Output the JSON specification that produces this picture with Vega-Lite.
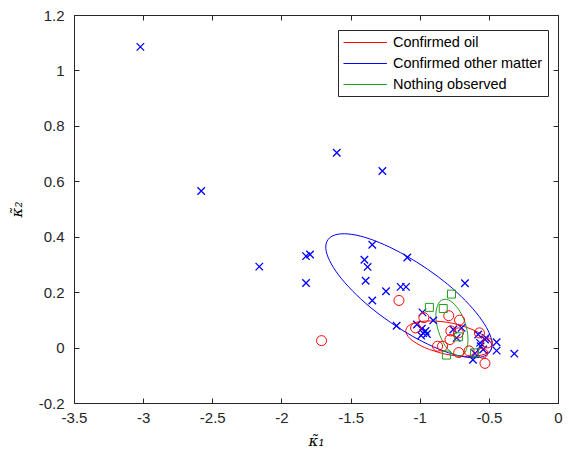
{
  "$schema": "https://vega.github.io/schema/vega-lite/v6.json",
  "width": 484,
  "height": 388,
  "autosize": "none",
  "padding": {"left": 74, "top": 15, "right": 11, "bottom": 54},
  "background": "white",
  "config": {
    "view": {"stroke": "#262626", "strokeWidth": 1},
    "axis": {
      "grid": false,
      "domain": false,
      "tickColor": "#262626",
      "tickSize": -5,
      "labelFont": "Liberation Sans",
      "labelFontSize": 15,
      "labelColor": "#262626",
      "labelFlush": false,
      "labelOverlap": false,
      "titleFont": "DejaVu Serif",
      "titleFontStyle": "italic",
      "titleFontWeight": "normal",
      "titleFontSize": 15,
      "titleColor": "#000000"
    }
  },
  "datasets": {
    "ellipses": [
      {"group": "Confirmed oil", "k": 0, "k1": -0.478, "k2": 0.000},
      {"group": "Confirmed oil", "k": 1, "k1": -0.495, "k2": -0.014},
      {"group": "Confirmed oil", "k": 2, "k1": -0.531, "k2": -0.024},
      {"group": "Confirmed oil", "k": 3, "k1": -0.585, "k2": -0.030},
      {"group": "Confirmed oil", "k": 4, "k1": -0.654, "k2": -0.032},
      {"group": "Confirmed oil", "k": 5, "k1": -0.731, "k2": -0.030},
      {"group": "Confirmed oil", "k": 6, "k1": -0.812, "k2": -0.024},
      {"group": "Confirmed oil", "k": 7, "k1": -0.892, "k2": -0.013},
      {"group": "Confirmed oil", "k": 8, "k1": -0.965, "k2": 0.000},
      {"group": "Confirmed oil", "k": 9, "k1": -1.025, "k2": 0.016},
      {"group": "Confirmed oil", "k": 10, "k1": -1.070, "k2": 0.032},
      {"group": "Confirmed oil", "k": 11, "k1": -1.095, "k2": 0.049},
      {"group": "Confirmed oil", "k": 12, "k1": -1.100, "k2": 0.064},
      {"group": "Confirmed oil", "k": 13, "k1": -1.083, "k2": 0.078},
      {"group": "Confirmed oil", "k": 14, "k1": -1.047, "k2": 0.088},
      {"group": "Confirmed oil", "k": 15, "k1": -0.993, "k2": 0.094},
      {"group": "Confirmed oil", "k": 16, "k1": -0.925, "k2": 0.096},
      {"group": "Confirmed oil", "k": 17, "k1": -0.847, "k2": 0.094},
      {"group": "Confirmed oil", "k": 18, "k1": -0.766, "k2": 0.088},
      {"group": "Confirmed oil", "k": 19, "k1": -0.686, "k2": 0.077},
      {"group": "Confirmed oil", "k": 20, "k1": -0.614, "k2": 0.064},
      {"group": "Confirmed oil", "k": 21, "k1": -0.553, "k2": 0.048},
      {"group": "Confirmed oil", "k": 22, "k1": -0.508, "k2": 0.032},
      {"group": "Confirmed oil", "k": 23, "k1": -0.483, "k2": 0.015},

      {"group": "Confirmed other matter", "k": 0, "k1": -0.492, "k2": -0.015},
      {"group": "Confirmed other matter", "k": 1, "k1": -0.547, "k2": -0.033},
      {"group": "Confirmed other matter", "k": 2, "k1": -0.638, "k2": -0.036},
      {"group": "Confirmed other matter", "k": 3, "k1": -0.759, "k2": -0.024},
      {"group": "Confirmed other matter", "k": 4, "k1": -0.901, "k2": 0.003},
      {"group": "Confirmed other matter", "k": 5, "k1": -1.056, "k2": 0.042},
      {"group": "Confirmed other matter", "k": 6, "k1": -1.212, "k2": 0.091},
      {"group": "Confirmed other matter", "k": 7, "k1": -1.359, "k2": 0.146},
      {"group": "Confirmed other matter", "k": 8, "k1": -1.487, "k2": 0.205},
      {"group": "Confirmed other matter", "k": 9, "k1": -1.587, "k2": 0.262},
      {"group": "Confirmed other matter", "k": 10, "k1": -1.652, "k2": 0.314},
      {"group": "Confirmed other matter", "k": 11, "k1": -1.679, "k2": 0.357},
      {"group": "Confirmed other matter", "k": 12, "k1": -1.664, "k2": 0.389},
      {"group": "Confirmed other matter", "k": 13, "k1": -1.609, "k2": 0.407},
      {"group": "Confirmed other matter", "k": 14, "k1": -1.518, "k2": 0.410},
      {"group": "Confirmed other matter", "k": 15, "k1": -1.398, "k2": 0.398},
      {"group": "Confirmed other matter", "k": 16, "k1": -1.255, "k2": 0.371},
      {"group": "Confirmed other matter", "k": 17, "k1": -1.101, "k2": 0.332},
      {"group": "Confirmed other matter", "k": 18, "k1": -0.944, "k2": 0.283},
      {"group": "Confirmed other matter", "k": 19, "k1": -0.797, "k2": 0.228},
      {"group": "Confirmed other matter", "k": 20, "k1": -0.669, "k2": 0.169},
      {"group": "Confirmed other matter", "k": 21, "k1": -0.570, "k2": 0.112},
      {"group": "Confirmed other matter", "k": 22, "k1": -0.504, "k2": 0.060},
      {"group": "Confirmed other matter", "k": 23, "k1": -0.477, "k2": 0.017},

      {"group": "Nothing observed", "k": 0, "k1": -0.702, "k2": -0.029},
      {"group": "Nothing observed", "k": 1, "k1": -0.729, "k2": -0.030},
      {"group": "Nothing observed", "k": 2, "k1": -0.759, "k2": -0.023},
      {"group": "Nothing observed", "k": 3, "k1": -0.789, "k2": -0.010},
      {"group": "Nothing observed", "k": 4, "k1": -0.818, "k2": 0.008},
      {"group": "Nothing observed", "k": 5, "k1": -0.843, "k2": 0.031},
      {"group": "Nothing observed", "k": 6, "k1": -0.863, "k2": 0.057},
      {"group": "Nothing observed", "k": 7, "k1": -0.877, "k2": 0.083},
      {"group": "Nothing observed", "k": 8, "k1": -0.883, "k2": 0.109},
      {"group": "Nothing observed", "k": 9, "k1": -0.881, "k2": 0.132},
      {"group": "Nothing observed", "k": 10, "k1": -0.871, "k2": 0.152},
      {"group": "Nothing observed", "k": 11, "k1": -0.855, "k2": 0.166},
      {"group": "Nothing observed", "k": 12, "k1": -0.832, "k2": 0.173},
      {"group": "Nothing observed", "k": 13, "k1": -0.805, "k2": 0.174},
      {"group": "Nothing observed", "k": 14, "k1": -0.775, "k2": 0.167},
      {"group": "Nothing observed", "k": 15, "k1": -0.745, "k2": 0.154},
      {"group": "Nothing observed", "k": 16, "k1": -0.716, "k2": 0.136},
      {"group": "Nothing observed", "k": 17, "k1": -0.691, "k2": 0.113},
      {"group": "Nothing observed", "k": 18, "k1": -0.671, "k2": 0.088},
      {"group": "Nothing observed", "k": 19, "k1": -0.657, "k2": 0.061},
      {"group": "Nothing observed", "k": 20, "k1": -0.651, "k2": 0.035},
      {"group": "Nothing observed", "k": 21, "k1": -0.653, "k2": 0.012},
      {"group": "Nothing observed", "k": 22, "k1": -0.663, "k2": -0.008},
      {"group": "Nothing observed", "k": 23, "k1": -0.679, "k2": -0.022}
    ],
    "oil": [
      {"k1": -1.71, "k2": 0.025},
      {"k1": -1.15, "k2": 0.170},
      {"k1": -0.97, "k2": 0.108},
      {"k1": -1.03, "k2": 0.071},
      {"k1": -0.79, "k2": 0.115},
      {"k1": -0.712, "k2": 0.099},
      {"k1": -0.775, "k2": 0.060},
      {"k1": -0.72, "k2": 0.053},
      {"k1": -0.781, "k2": 0.029},
      {"k1": -0.568, "k2": 0.053},
      {"k1": -0.51, "k2": 0.017},
      {"k1": -0.871, "k2": 0.005},
      {"k1": -0.835, "k2": 0.005},
      {"k1": -0.718, "k2": -0.018},
      {"k1": -0.643, "k2": -0.012},
      {"k1": -0.545, "k2": -0.020},
      {"k1": -0.528, "k2": -0.057}
    ],
    "other": [
      {"k1": -3.02, "k2": 1.085},
      {"k1": -2.58, "k2": 0.565},
      {"k1": -2.16, "k2": 0.292},
      {"k1": -1.60, "k2": 0.703},
      {"k1": -1.27, "k2": 0.637},
      {"k1": -1.822, "k2": 0.330},
      {"k1": -1.793, "k2": 0.336},
      {"k1": -1.822, "k2": 0.233},
      {"k1": -1.343, "k2": 0.371},
      {"k1": -1.09, "k2": 0.325},
      {"k1": -1.40, "k2": 0.317},
      {"k1": -1.377, "k2": 0.291},
      {"k1": -1.391, "k2": 0.241},
      {"k1": -1.244, "k2": 0.203},
      {"k1": -1.138, "k2": 0.219},
      {"k1": -1.099, "k2": 0.219},
      {"k1": -1.343, "k2": 0.170},
      {"k1": -0.673, "k2": 0.232},
      {"k1": -0.98, "k2": 0.127},
      {"k1": -0.902, "k2": 0.098},
      {"k1": -1.167, "k2": 0.079},
      {"k1": -1.02, "k2": 0.083},
      {"k1": -0.985, "k2": 0.068},
      {"k1": -0.958, "k2": 0.060},
      {"k1": -0.975, "k2": 0.052},
      {"k1": -0.948, "k2": 0.049},
      {"k1": -0.99, "k2": 0.043},
      {"k1": -0.757, "k2": 0.065},
      {"k1": -0.697, "k2": 0.071},
      {"k1": -0.733, "k2": 0.035},
      {"k1": -0.577, "k2": 0.047},
      {"k1": -0.564, "k2": 0.017},
      {"k1": -0.528, "k2": 0.029},
      {"k1": -0.521, "k2": 0.035},
      {"k1": -0.444, "k2": 0.019},
      {"k1": -0.444, "k2": -0.011},
      {"k1": -0.316, "k2": -0.022},
      {"k1": -0.600, "k2": -0.021},
      {"k1": -0.615, "k2": -0.044},
      {"k1": -0.541, "k2": -0.007},
      {"k1": -0.559, "k2": 0.005}
    ],
    "nothing": [
      {"k1": -0.93, "k2": 0.145},
      {"k1": -0.83, "k2": 0.141},
      {"k1": -0.77, "k2": 0.193},
      {"k1": -0.72, "k2": 0.039},
      {"k1": -0.807, "k2": -0.027},
      {"k1": -0.603, "k2": -0.019}
    ]
  },
  "layer": [
    {
      "data": {"name": "ellipses"},
      "mark": {"type": "line", "interpolate": "cardinal-closed", "strokeWidth": 1},
      "encoding": {
        "x": {
          "field": "k1", "type": "quantitative",
          "scale": {"domain": [-3.5, 0], "nice": false, "zero": false},
          "axis": {
            "orient": "bottom",
            "values": [-3.5, -3, -2.5, -2, -1.5, -1, -0.5, 0],
            "labelExpr": "datum.value + ''",
            "labelPadding": 12,
            "title": "κ̃₁",
            "titlePadding": 8
          }
        },
        "y": {
          "field": "k2", "type": "quantitative",
          "scale": {"domain": [-0.2, 1.2], "nice": false, "zero": false},
          "axis": {
            "orient": "left",
            "values": [-0.2, 0, 0.2, 0.4, 0.6, 0.8, 1, 1.2],
            "labelExpr": "datum.value + ''",
            "labelPadding": 15,
            "title": "κ̃₂",
            "titlePadding": 14
          }
        },
        "color": {
          "field": "group", "type": "nominal",
          "scale": {
            "domain": ["Confirmed oil", "Confirmed other matter", "Nothing observed"],
            "range": ["#ff0000", "#0000ff", "#1f9e1f"]
          },
          "legend": {
            "orient": "none",
            "legendX": 264,
            "legendY": 15,
            "title": null,
            "symbolType": "M-1,0L5.2,0",
            "symbolSize": 196,
            "symbolStrokeWidth": 1,
            "labelFont": "Liberation Sans",
            "labelFontSize": 14.5,
            "labelColor": "#000000",
            "labelOffset": 35,
            "labelLimit": 400,
            "padding": 5,
            "rowPadding": 6,
            "strokeColor": "#262626",
            "fillColor": "white"
          }
        },
        "order": {"field": "k", "type": "quantitative"}
      }
    },
    {
      "data": {"name": "other"},
      "mark": {"type": "point", "shape": "M-1,-1L1,1M-1,1L1,-1", "filled": false, "color": "#0000ff", "size": 56, "strokeWidth": 1.3, "opacity": 1},
      "encoding": {
        "x": {
          "field": "k1", "type": "quantitative",
          "axis": {"orient": "top", "values": [-3.5, -3, -2.5, -2, -1.5, -1, -0.5, 0], "labels": false, "title": null}
        },
        "y": {
          "field": "k2", "type": "quantitative",
          "axis": {"orient": "right", "values": [-0.2, 0, 0.2, 0.4, 0.6, 0.8, 1, 1.2], "labels": false, "title": null}
        }
      }
    },
    {
      "data": {"name": "oil"},
      "mark": {"type": "point", "shape": "circle", "filled": false, "color": "#ff0000", "size": 100, "strokeWidth": 1, "opacity": 1},
      "encoding": {
        "x": {"field": "k1", "type": "quantitative", "axis": null},
        "y": {"field": "k2", "type": "quantitative", "axis": null}
      }
    },
    {
      "data": {"name": "nothing"},
      "mark": {"type": "point", "shape": "square", "filled": false, "color": "#1f9e1f", "size": 64, "strokeWidth": 1, "opacity": 1},
      "encoding": {
        "x": {"field": "k1", "type": "quantitative", "axis": null},
        "y": {"field": "k2", "type": "quantitative", "axis": null}
      }
    }
  ],
  "resolve": {"axis": {"x": "independent", "y": "independent"}}
}
